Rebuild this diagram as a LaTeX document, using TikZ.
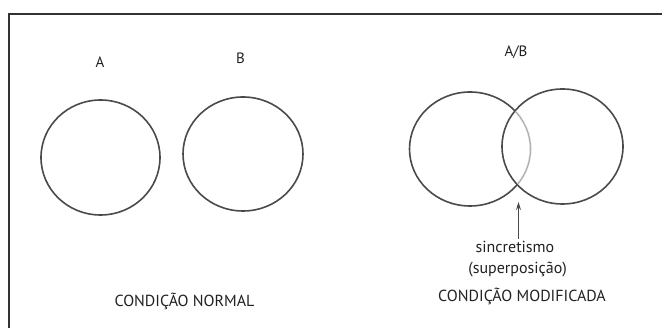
\documentclass[tikz,border=0pt]{standalone}
\usepackage{fontspec}
\setmainfont{PT Sans}
\usetikzlibrary{shapes.geometric,arrows.meta}
\definecolor{ink}{HTML}{4A4A4A}
\definecolor{txt}{HTML}{222222}
\definecolor{faint}{HTML}{B0B0B0}
\begin{document}
\begin{tikzpicture}[x=1pt,y=-1pt,
  circ/.style={ellipse, draw=ink, line width=1.6pt, inner sep=0pt, minimum width=120pt, minimum height=115pt},
  lbl/.style={text=txt, font=\fontsize{16}{18}\selectfont, inner sep=0pt},
  top/.style={text=txt, font=\fontsize{15}{17}\selectfont, inner sep=0pt},
  frame/.style={draw=black!80, line width=2pt}]
\useasboundingbox (0,0) rectangle (662,328);
\fill[white] (0,0) rectangle (662,328);
\coordinate (fb) at (9,330);
\coordinate (fc) at (9,14);
\coordinate (fr) at (664,14);
\draw[frame] (fb) -- (fc) -- (fr);
% normal condition
\node[circ, minimum width=119pt] (A) at (100.5,157.5) {};
\node[circ, minimum height=114pt] (B) at (243,154) {};
\node[top] (la) at (100,62) {A};
\node[top] (lb) at (240.5,58) {B};
\node[lbl] (ln) at (184.5,301) {CONDIÇÃO NORMAL};
% modified condition
\node[circ, minimum width=121pt, minimum height=114pt] (L) at (470,149) {};
\node[circ, minimum width=121pt] (R) at (562.5,146.5) {};
\begin{scope}
  \clip (R.center) ellipse (59.5pt and 56.8pt);
  \draw[white, line width=2.4pt] (L.center) ellipse (60.5pt and 57pt);
  \draw[faint, line width=1.4pt] (L.center) ellipse (60.5pt and 57pt);
\end{scope}
\node[top] (lab) at (516,52) {A/B};
\node[lbl] (s1) at (515,247) {sincretismo};
\node[lbl] (s2) at (517.5,270) {(superposição)};
\node[lbl] (lm) at (522,296) {CONDIÇÃO MODIFICADA};
\coordinate (tip) at (518.5,202);
\draw[ink, line width=1pt, -{Stealth[length=8pt,width=5pt]}] (s1.north -| tip) ++(0,-2) -- (tip);
\end{tikzpicture}
\end{document}
